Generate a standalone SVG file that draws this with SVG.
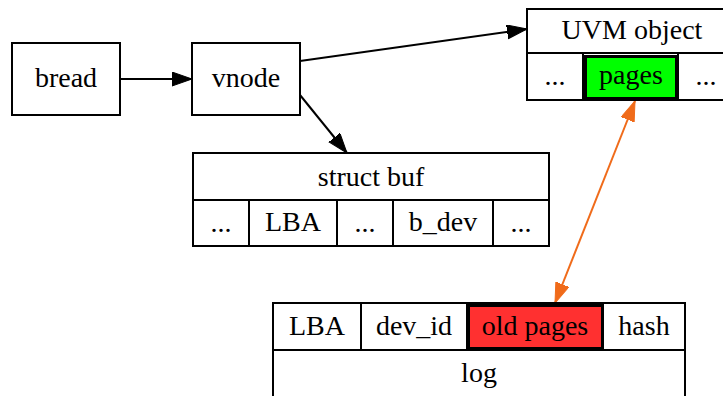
<svg xmlns="http://www.w3.org/2000/svg" width="723" height="396" viewBox="0 0 723 396">
  <style>
    .box { fill: #ffffff; stroke: #000000; stroke-width: 2; }
    .sep { stroke: #000000; stroke-width: 2; fill: none; }
    .hot { stroke: #000000; stroke-width: 3; }
    text { font-family: "Liberation Serif", "Times New Roman", serif; font-size: 28px; fill: #000000; text-anchor: middle; }
    .edge { stroke: #000000; stroke-width: 2; fill: none; }
    .link { stroke: #f06b1a; stroke-width: 2; fill: none; }
  </style>
  <defs>
    <marker id="arrow" markerUnits="userSpaceOnUse" markerWidth="22" markerHeight="16" refX="20" refY="7" orient="auto" viewBox="0 0 22 16">
      <path d="M0,0 L20,7 L0,14 Z" fill="#000000" stroke="#000000" stroke-width="1"/>
    </marker>
    <marker id="arrow-orange" markerUnits="userSpaceOnUse" markerWidth="22" markerHeight="16" refX="20" refY="7" orient="auto-start-reverse" viewBox="0 0 22 16">
      <path d="M0,0 L20,7 L0,14 Z" fill="#f06b1a" stroke="#f06b1a" stroke-width="1"/>
    </marker>
  </defs>

  <!-- connectors -->
  <g id="edges">
    <line class="edge" x1="120" y1="79" x2="192" y2="79" marker-end="url(#arrow)"/>
    <line class="edge" x1="300" y1="61" x2="527" y2="29" marker-end="url(#arrow)"/>
    <line class="edge" x1="300" y1="95" x2="347" y2="153" marker-end="url(#arrow)"/>
    <line class="link" x1="635" y1="101" x2="555" y2="303" marker-start="url(#arrow-orange)" marker-end="url(#arrow-orange)"/>
  </g>

  <g id="bread">
    <rect class="box" x="12" y="43" width="108" height="72"/>
    <text x="66" y="87">bread</text>
  </g>

  <g id="vnode">
    <rect class="box" x="192" y="43" width="108" height="72"/>
    <text x="246" y="87">vnode</text>
  </g>

  <g id="uvm">
    <rect class="box" x="527" y="9" width="210" height="91"/>
    <line class="sep" x1="527" y1="53" x2="737" y2="53"/>
    <line class="sep" x1="583" y1="53" x2="583" y2="100"/>
    <line class="sep" x1="678" y1="53" x2="678" y2="100"/>
    <text x="632" y="39">UVM object</text>
    <text x="555" y="85">...</text>
    <rect class="hot" x="585.5" y="56.5" width="91" height="42" fill="#00ff00"/>
    <text x="631" y="84">pages</text>
    <text x="706" y="85">...</text>
  </g>

  <g id="struct-buf">
    <rect class="box" x="193" y="153" width="356" height="93"/>
    <line class="sep" x1="193" y1="200" x2="549" y2="200"/>
    <line class="sep" x1="249" y1="200" x2="249" y2="246"/>
    <line class="sep" x1="337" y1="200" x2="337" y2="246"/>
    <line class="sep" x1="393" y1="200" x2="393" y2="246"/>
    <line class="sep" x1="493" y1="200" x2="493" y2="246"/>
    <text x="371" y="186">struct buf</text>
    <text x="221" y="232">...</text>
    <text x="293" y="231">LBA</text>
    <text x="365" y="232">...</text>
    <text x="443" y="231">b_dev</text>
    <text x="521" y="232">...</text>
  </g>

  <g id="log">
    <rect class="box" x="273" y="303" width="412" height="100"/>
    <line class="sep" x1="273" y1="350" x2="685" y2="350"/>
    <line class="sep" x1="361" y1="303" x2="361" y2="350"/>
    <line class="sep" x1="467" y1="303" x2="467" y2="350"/>
    <line class="sep" x1="603" y1="303" x2="603" y2="350"/>
    <text x="317" y="335">LBA</text>
    <text x="414" y="335">dev_id</text>
    <rect class="hot" x="468.5" y="305.5" width="134" height="43" fill="#ff3030"/>
    <text x="535" y="335">old pages</text>
    <text x="644" y="335">hash</text>
    <text x="479" y="382">log</text>
  </g>
</svg>
